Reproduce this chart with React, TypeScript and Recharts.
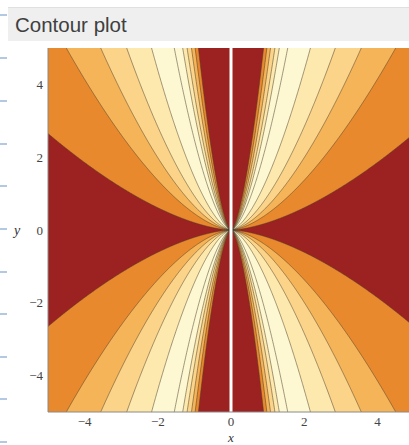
import { ComposedChart, Area, Line, XAxis, YAxis, ReferenceLine } from 'recharts';

// x where each contour line meets the top edge (y = 5), innermost first
const topCrossX = [0.89, 0.98, 1.08, 1.2, 1.32, 1.55, 2.17, 2.85, 3.56, 4.5];
// the outermost contour meets the side edges (x = ±5) at this height
const sideCrossY = 2.65;
// how the contour lines bend into the origin (y grows like |x|^bend)
const bend = 1.6;

const red = '#9c2222';
// fill above each contour line, outermost contour first
const bandColors = [
  '#e8892d', '#f6b458', '#fbd48a', '#fde9ad', '#fdf8d2',
  '#fdf8d2', '#fde9ad', '#fbd48a', '#f6b458', '#e8892d', red,
];

const majorTicks = [-4, -2, 0, 2, 4];
const minorTicks = [-4.5, -4, -3.5, -3, -2.5, -2, -1.5, -1, -0.5, 0, 0.5, 1, 1.5, 2, 2.5, 3, 3.5, 4, 4.5];
const leftDashes = [14, 57, 100, 143, 185, 228, 271, 313, 356, 398, 441];

// contour lines as their top-edge crossing, outermost first
const crossings = [5 * Math.pow(5 / sideCrossY, 1 / bend), ...[...topCrossX].reverse()];

function buildRows() {
  const rows: Record<string, number | number[]>[] = [];
  for (let i = 0; i <= 1000; i++) {
    const x = +(-5 + i * 0.01).toFixed(2);
    const row: Record<string, number | number[]> = { x, bg: [-5, 5] };
    crossings.forEach((x0, k) => {
      const g = 5 * Math.pow(Math.abs(x) / x0, bend);
      row[`up${k}`] = [Math.min(g, 5), 5];
      row[`dn${k}`] = [-5, -Math.min(g, 5)];
      row[`lu${k}`] = Math.min(g, 6);
      row[`ld${k}`] = -Math.min(g, 6);
    });
    rows.push(row);
  }
  return rows;
}

const fmt = (v: number) => (v < 0 ? `−${-v}` : `${v}`);
const noLabel = () => <g />;
const serif = '"Liberation Serif", "DejaVu Serif", serif';
const tickFont = { fontFamily: serif, fontSize: 13, fill: '#444' };
const frame = { stroke: '#8a8a8a' };

export default function App() {
  const rows = buildRows();
  return (
    <div style={{ position: 'absolute', left: 0, top: 0, width: 409, height: 445, overflow: 'hidden', background: '#fff' }}>
      {leftDashes.map(y => (
        <div key={y} style={{ position: 'absolute', left: 0, top: y, width: 7, height: 1.5, background: '#b3c9e3' }} />
      ))}
      <div
        style={{
          position: 'absolute', left: 8, top: 7, width: 401, height: 34, boxSizing: 'border-box',
          background: '#efefef', borderTop: '1px solid #e0e0e0', paddingLeft: 7,
          fontFamily: '"Liberation Sans", Arial, sans-serif', fontSize: 20.5, color: '#404040', lineHeight: '33px',
        }}
      >
        Contour plot
      </div>
      <div style={{ position: 'absolute', left: 0, top: 0, fontFamily: serif }}>
        <ComposedChart width={430} height={460} data={rows} margin={{ top: 48, right: 16, bottom: 0, left: 0 }}>
          <XAxis
            xAxisId="x" dataKey="x" type="number" domain={[-5, 5]} allowDataOverflow
            ticks={majorTicks} tickFormatter={fmt} tickLine={false} tickSize={0} tickMargin={5}
            axisLine={frame} tick={tickFont} height={48}
            label={{ value: 'x', position: 'insideBottom', offset: 18, style: { ...tickFont, fontSize: 13, fontStyle: 'italic', fill: '#333' } }}
          />
          <XAxis xAxisId="xbMaj" type="number" domain={[-5, 5]} allowDataOverflow orientation="bottom" mirror height={0}
            ticks={majorTicks} tickSize={5} tickLine={frame} axisLine={false} tick={noLabel} />
          <XAxis xAxisId="xbMin" type="number" domain={[-5, 5]} allowDataOverflow orientation="bottom" mirror height={0}
            ticks={minorTicks} tickSize={2.5} tickLine={frame} axisLine={false} tick={noLabel} />
          <XAxis xAxisId="xtMaj" type="number" domain={[-5, 5]} allowDataOverflow orientation="top" mirror height={0}
            ticks={majorTicks} tickSize={5} tickLine={frame} axisLine={frame} tick={noLabel} />
          <XAxis xAxisId="xtMin" type="number" domain={[-5, 5]} allowDataOverflow orientation="top" mirror height={0}
            ticks={minorTicks} tickSize={2.5} tickLine={frame} axisLine={false} tick={noLabel} />
          <YAxis
            yAxisId="y" type="number" domain={[-5, 5]} allowDataOverflow
            ticks={majorTicks} tickFormatter={fmt} tickLine={false} tickSize={0} tickMargin={5}
            axisLine={frame} tick={tickFont} width={48}
            label={{ value: 'y', position: 'insideLeft', offset: 14, style: { ...tickFont, fontSize: 14, fontStyle: 'italic', fill: '#333' } }}
          />
          <YAxis yAxisId="ylMaj" type="number" domain={[-5, 5]} allowDataOverflow orientation="left" mirror width={0}
            ticks={majorTicks} tickSize={5} tickLine={frame} axisLine={false} tick={noLabel} />
          <YAxis yAxisId="ylMin" type="number" domain={[-5, 5]} allowDataOverflow orientation="left" mirror width={0}
            ticks={minorTicks} tickSize={2.5} tickLine={frame} axisLine={false} tick={noLabel} />

          <Area xAxisId="x" yAxisId="y" dataKey="bg" type="linear" fill={red} fillOpacity={1} stroke="none" isAnimationActive={false} />
          {crossings.map((_, k) => (
            <Area key={`up${k}`} xAxisId="x" yAxisId="y" dataKey={`up${k}`} type="linear"
              fill={bandColors[k]} fillOpacity={1} stroke="none" isAnimationActive={false} />
          ))}
          {crossings.map((_, k) => (
            <Area key={`dn${k}`} xAxisId="x" yAxisId="y" dataKey={`dn${k}`} type="linear"
              fill={bandColors[k]} fillOpacity={1} stroke="none" isAnimationActive={false} />
          ))}
          {crossings.map((_, k) => (
            <Line key={`lu${k}`} xAxisId="x" yAxisId="y" dataKey={`lu${k}`} type="linear" dot={false}
              stroke="#4a3b2a" strokeOpacity={0.65} strokeWidth={0.8} isAnimationActive={false} />
          ))}
          {crossings.map((_, k) => (
            <Line key={`ld${k}`} xAxisId="x" yAxisId="y" dataKey={`ld${k}`} type="linear" dot={false}
              stroke="#4a3b2a" strokeOpacity={0.65} strokeWidth={0.8} isAnimationActive={false} />
          ))}
          <ReferenceLine xAxisId="x" yAxisId="y" x={0} stroke="#ffffff" strokeWidth={3} />
        </ComposedChart>
      </div>
    </div>
  );
}
